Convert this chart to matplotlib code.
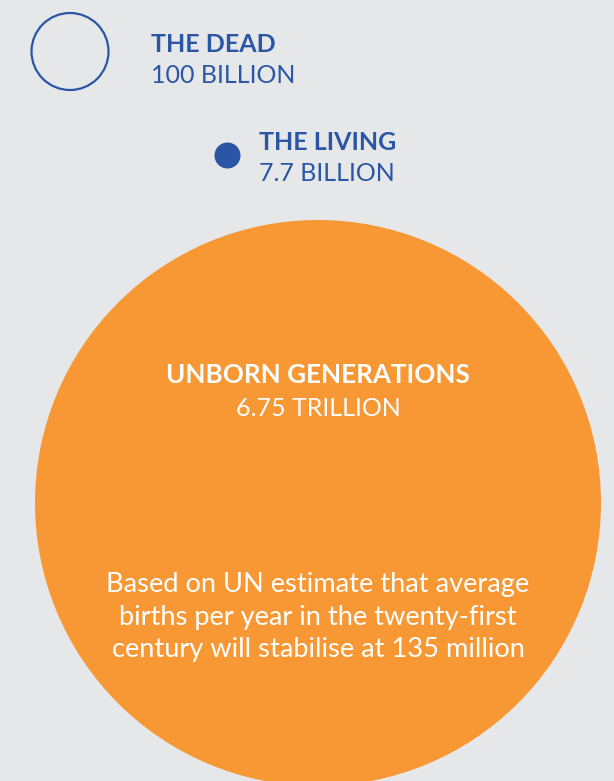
import matplotlib
matplotlib.use("Agg")
import matplotlib.pyplot as plt
from matplotlib.patches import Circle

# data
groups = ["THE DEAD", "THE LIVING", "UNBORN GENERATIONS"]
amounts = ["100 BILLION", "7.7 BILLION", "6.75 TRILLION"]
note = ("Based on UN estimate that average\n"
        "births per year in the twenty-first\n"
        "century will stabilise at 135 million")

# layout (pixels, top-left origin)
W, H = 614, 781
bg = "#e6e7e9"
blue = "#2b56a5"
orange = "#f79834"

circle_pos = [(70, 51.5), (227.5, 155.5), (318, 503)]
circle_r = [38.5, 13, 283]
label_pos = [(151, 52, "left"), (259, 150, "left"), (318, 383, "center")]
label_fs = [18, 18, 18.7]

plt.rcParams['font.family'] = ['Lato', 'DejaVu Sans']

fig = plt.figure(figsize=(W / 100, H / 100), dpi=100)
fig.patch.set_facecolor(bg)
ax = fig.add_axes([0, 0, 1, 1])
ax.set_xlim(0, W)
ax.set_ylim(H, 0)
ax.set_aspect("equal")
ax.axis("off")

# circles
ax.add_patch(Circle(circle_pos[0], circle_r[0], facecolor="none", edgecolor=blue, lw=1.6))
ax.add_patch(Circle(circle_pos[1], circle_r[1], facecolor=blue, edgecolor="none"))
ax.add_patch(Circle(circle_pos[2], circle_r[2], facecolor=orange, edgecolor="none"))

for i, (g, a) in enumerate(zip(groups, amounts)):
    x, y, ha = label_pos[i]
    col = "white" if i == 2 else blue
    ax.text(x, y, g, ha=ha, va="baseline", fontsize=label_fs[i], fontweight="bold", color=col)
    ax.text(x, y + 31 if i < 2 else y + 33, a, ha=ha, va="baseline", fontsize=18, color=col)

for j, line in enumerate(note.split("\n")):
    ax.text(318, 592 + 32.5 * j, line, ha="center", va="baseline", fontsize=19.6,
            color="white")

fig.savefig("out.png", dpi=100, facecolor=bg)
